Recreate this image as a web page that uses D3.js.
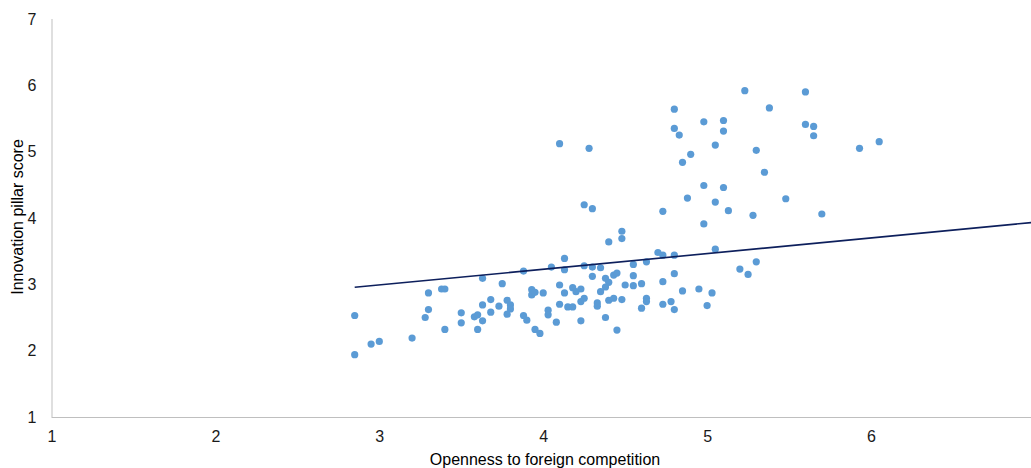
<!DOCTYPE html>
<html>
<head>
<meta charset="utf-8">
<script src="https://cdn.jsdelivr.net/npm/d3@7"></script>
<style>
  body { margin: 0; background: #fff; }
  svg { display: block; font-family: "Liberation Sans", Arial, sans-serif; }
</style>
</head>
<body>
<svg id="chart"></svg>
<script>
// openness to foreign competition (x) vs innovation pillar score (y)
const openness = [
  2.85, 2.85, 2.95, 3.00, 3.20, 3.30, 3.30, 3.28, 3.38, 3.40,
  3.40, 3.50, 3.50, 3.58, 3.60, 3.63, 3.60, 3.63, 3.63, 3.68,
  3.68, 3.73, 3.75, 3.78, 3.80, 3.80, 3.78, 3.88, 3.88, 3.90,
  3.93, 3.93, 3.95, 3.95, 3.98, 4.48, 4.40, 4.48, 4.05, 4.13,
  4.13, 4.25, 4.30, 4.35, 4.30, 4.38, 4.43, 4.45, 4.40, 4.38,
  4.35, 4.50, 4.55, 4.55, 4.55, 4.63, 4.60, 4.63, 4.63, 4.60,
  4.70, 4.73, 4.80, 4.80, 4.73, 4.73, 4.78, 4.80, 4.00, 4.03,
  4.03, 4.08, 4.10, 4.10, 4.13, 4.15, 4.18, 4.18, 4.20, 4.23,
  4.23, 4.25, 4.23, 4.33, 4.33, 4.38, 4.40, 4.43, 4.45, 4.48,
  5.05, 4.85, 4.95, 5.03, 5.00, 5.20, 5.25, 5.30, 4.10, 4.28,
  4.80, 4.80, 4.83, 4.98, 5.10, 5.10, 5.05, 4.90, 4.85, 4.98,
  5.10, 4.88, 5.05, 5.13, 4.73, 4.98, 4.25, 4.30, 5.23, 5.60,
  5.38, 5.60, 5.65, 5.65, 5.30, 5.93, 6.05, 5.35, 5.48, 5.28,
  5.70
];
const innovation = [
  2.53, 1.94, 2.10, 2.14, 2.19, 2.87, 2.62, 2.50, 2.93, 2.93,
  2.32, 2.57, 2.42, 2.51, 2.54, 2.45, 2.32, 3.09, 2.69, 2.77,
  2.58, 2.67, 3.01, 2.76, 2.69, 2.63, 2.55, 3.20, 2.53, 2.46,
  2.92, 2.84, 2.88, 2.32, 2.26, 3.80, 3.64, 3.69, 3.26, 3.39,
  3.22, 3.28, 3.26, 3.25, 3.12, 3.09, 3.14, 3.17, 3.03, 2.96,
  2.89, 2.99, 3.30, 3.13, 2.98, 3.34, 3.01, 2.79, 2.74, 2.64,
  3.48, 3.44, 3.44, 3.16, 3.04, 2.70, 2.74, 2.62, 2.87, 2.61,
  2.54, 2.43, 2.99, 2.70, 2.87, 2.66, 2.66, 2.95, 2.89, 2.93,
  2.74, 2.79, 2.45, 2.72, 2.67, 2.50, 2.76, 2.79, 2.31, 2.77,
  3.53, 2.90, 2.93, 2.87, 2.68, 3.23, 3.15, 3.34, 5.12, 5.05,
  5.64, 5.35, 5.25, 5.45, 5.47, 5.31, 5.10, 4.96, 4.84, 4.49,
  4.46, 4.30, 4.24, 4.11, 4.10, 3.91, 4.20, 4.14, 5.92, 5.90,
  5.66, 5.41, 5.38, 5.24, 5.02, 5.05, 5.15, 4.69, 4.29, 4.04,
  4.06
];
// linear trendline (Excel style), y = slope * x + intercept
const trendSlope = 0.2365;
const trendIntercept = 2.281;
const trendFrom = 2.85;
const trendTo = 7;

const xTicks = [1, 2, 3, 4, 5, 6];
const yTicks = [1, 2, 3, 4, 5, 6, 7];

const width = 1031, height = 468;
const margin = { top: 19, left: 51.5, bottom: 51 };

const svg = d3.select('#chart')
  .attr('width', width)
  .attr('height', height);

const x = d3.scaleLinear().domain([1, 7]).range([margin.left, margin.left + 6 * 163.9]);
const y = d3.scaleLinear().domain([1, 7]).range([height - margin.bottom, margin.top]);

const points = openness.map((v, i) => ({ x: v, y: innovation[i] }));

// axes (Excel look: light grey lines, no tick marks)
const xAxis = svg.append('g')
  .attr('transform', 'translate(0,' + y(1) + ')')
  .call(d3.axisBottom(x).tickValues(xTicks).tickSize(0).tickPadding(14).tickFormat(d3.format('d')));
xAxis.select('.domain').attr('stroke', '#bfbfbf').attr('d', 'M' + x(1) + ',0.5H' + width);

const yAxis = svg.append('g')
  .attr('transform', 'translate(' + x(1) + ',0)')
  .call(d3.axisLeft(y).tickValues(yTicks).tickSize(0).tickPadding(15).tickFormat(d3.format('d')));
yAxis.select('.domain').attr('stroke', '#bfbfbf').attr('d', 'M0.5,' + y(1) + 'V' + y(7));

svg.selectAll('.tick text')
  .attr('font-size', 16)
  .attr('fill', '#1a1a1a')
  .attr('font-family', '"Liberation Sans", Arial, sans-serif');

// scatter points
svg.append('g')
  .selectAll('circle')
  .data(points)
  .join('circle')
    .attr('cx', d => x(d.x))
    .attr('cy', d => y(d.y))
    .attr('r', 3.6)
    .attr('fill', '#5b9bd5');

// trendline
const trend = d3.line()
  .x(d => x(d))
  .y(d => y(trendSlope * d + trendIntercept));

svg.append('path')
  .datum([trendFrom, trendTo])
  .attr('d', trend)
  .attr('fill', 'none')
  .attr('stroke', '#0d1f5c')
  .attr('stroke-width', 1.6);

// axis titles
svg.append('text')
  .attr('x', 545)
  .attr('y', 465)
  .attr('text-anchor', 'middle')
  .attr('font-size', 16)
  .attr('fill', '#000')
  .text('Openness to foreign competition');

svg.append('text')
  .attr('transform', 'translate(23,' + 217 + ') rotate(-90)')
  .attr('text-anchor', 'middle')
  .attr('font-size', 16)
  .attr('fill', '#000')
  .text('Innovation pillar score');
</script>
</body>
</html>
